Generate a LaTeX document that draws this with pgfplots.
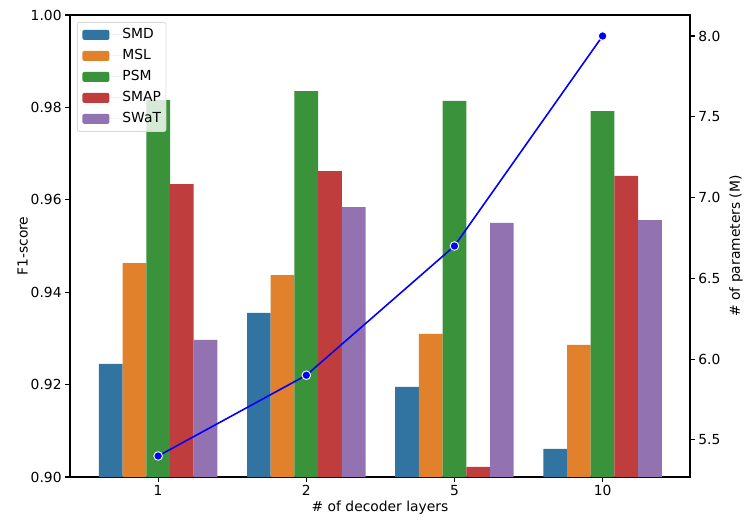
\documentclass[border=0pt]{standalone}
\usepackage{pgfplots}
\pgfplotsset{compat=1.18}
\usepackage{fontspec}
\setmainfont{DejaVu Sans}
\definecolor{cSMD}{HTML}{3274A1}
\definecolor{cMSL}{HTML}{E1812C}
\definecolor{cPSM}{HTML}{3A923A}
\definecolor{cSMAP}{HTML}{C03D3E}
\definecolor{cSWaT}{HTML}{9372B2}
\begin{document}
\begin{tikzpicture}[font=\fontsize{13.9}{16.7}\selectfont]
\pgfplotsset{
  common/.style={
    scale only axis, width=620bp, height=462bp,
    xmin=-0.595, xmax=3.59,
    axis line style={line width=1.1bp},
    tick style={line width=1.1bp, black},
    tick align=outside, major tick length=4.9bp,
    /pgf/number format/assume math mode=true,
    tick label style={font=\fontsize{13.9}{16.7}\selectfont},
    label style={font=\fontsize{13.9}{16.7}\selectfont},
  }
}
\path[use as bounding box] (-70bp,-53bp) rectangle (681bp,477bp);
\begin{axis}[common,
  xtick pos=bottom, ytick pos=left,
  ymin=0.9, ymax=1.0,
  ytick={0.90,0.92,0.94,0.96,0.98,1.00},
  yticklabel style={/pgf/number format/.cd, fixed, fixed zerofill, precision=2},
  xtick={0,1,2,3}, xticklabels={1,2,5,10},
  xlabel={\# of decoder layers}, ylabel={F1-score},
  xlabel style={yshift=2bp},
  ylabel style={yshift=-4bp},
  legend style={at={(0,1)}, anchor=north west, xshift=7bp, yshift=-7bp,
    draw=black!15, line width=0.8bp, rounded corners=2bp, fill=white, fill opacity=0.8, text opacity=1,
    font=\fontsize{13.9}{16.7}\selectfont, row sep=8bp, inner xsep=5bp, inner ysep=6bp,
    nodes={inner sep=0pt, text height=10bp, text depth=3bp}},
  legend cell align=left,
  legend image code/.code={\path (0bp,0bp) -- (40bp,0bp); \fill[#1, fill opacity=1] (0bp,-5bp) rectangle (27bp,5bp);},
  clip=true,
]
\addplot[ybar, bar width=0.16, bar shift=-0.32, fill=cSMD, draw=none] coordinates {(0,0.9245) (1,0.9355) (2,0.9195) (3,0.9061)};
\addlegendentry{SMD}
\addplot[ybar, bar width=0.16, bar shift=-0.16, fill=cMSL, draw=none] coordinates {(0,0.9463) (1,0.9437) (2,0.9310) (3,0.9286)};
\addlegendentry{MSL}
\addplot[ybar, bar width=0.16, bar shift=0, fill=cPSM, draw=none] coordinates {(0,0.9816) (1,0.9835) (2,0.9814) (3,0.9792)};
\addlegendentry{PSM}
\addplot[ybar, bar width=0.16, bar shift=0.16, fill=cSMAP, draw=none] coordinates {(0,0.9634) (1,0.9662) (2,0.9022) (3,0.9652)};
\addlegendentry{SMAP}
\addplot[ybar, bar width=0.16, bar shift=0.32, fill=cSWaT, draw=none] coordinates {(0,0.9297) (1,0.9584) (2,0.9550) (3,0.9556)};
\addlegendentry{SWaT}
\end{axis}
\begin{axis}[common,
  axis y line*=right, axis x line=none,
  ymin=5.27, ymax=8.13,
  ytick={5.5,6.0,6.5,7.0,7.5,8.0},
  yticklabel style={/pgf/number format/.cd, fixed, fixed zerofill, precision=1},
  ylabel={\# of parameters (M)},
  ylabel style={yshift=-2bp},
  clip=false,
]
\addplot[blue, line width=1.6bp, mark=*, mark size=4.3bp, mark options={fill=blue, draw=white, line width=0.9bp}] coordinates {(0,5.4) (1,5.9) (2,6.7) (3,8.0)};
\end{axis}
\end{tikzpicture}
\end{document}
